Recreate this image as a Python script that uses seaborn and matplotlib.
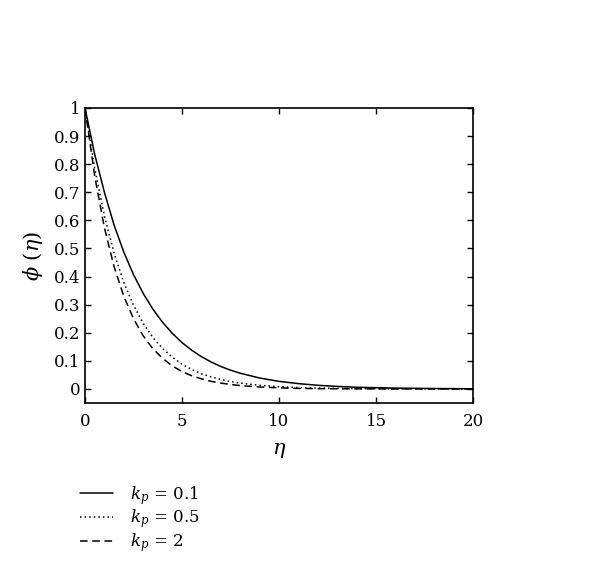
import pandas as pd
import matplotlib
matplotlib.use('Agg')
import matplotlib.pyplot as plt
import seaborn as sns

# valori
eta = [0, 0.5, 1, 1.5, 2, 2.5, 3, 3.5, 4, 4.5, 5, 5.5, 6, 6.5, 7, 7.5, 8,
       9, 10, 11, 12, 13, 14, 16, 18, 20]
phi_01 = [1, 0.835, 0.70, 0.583, 0.487, 0.407, 0.34, 0.284, 0.237, 0.198, 0.165,
          0.138, 0.115, 0.096, 0.080, 0.067, 0.056, 0.039, 0.027, 0.019, 0.013,
          0.009, 0.006, 0.003, 0.0015, 0.0007]
phi_05 = [1, 0.785, 0.616, 0.483, 0.379, 0.298, 0.233, 0.183, 0.144, 0.113, 0.088,
          0.069, 0.054, 0.043, 0.034, 0.026, 0.021, 0.013, 0.008, 0.005, 0.003,
          0.002, 0.001, 0.0004, 0.0002, 0.0]
phi_2 = [1, 0.758, 0.574, 0.435, 0.330, 0.250, 0.189, 0.143, 0.109, 0.082, 0.062,
         0.047, 0.036, 0.027, 0.021, 0.016, 0.012, 0.007, 0.004, 0.002, 0.001,
         0.0007, 0.0004, 0.0001, 0.0, 0.0]
labels = [r'$k_p$ = 0.1', r'$k_p$ = 0.5', r'$k_p$ = 2']

df = pd.DataFrame({
    'eta': eta * 3,
    'phi': phi_01 + phi_05 + phi_2,
    'kp': [labels[0]] * len(eta) + [labels[1]] * len(eta) + [labels[2]] * len(eta),
})

sns.set_theme(style='ticks')
plt.rcParams['font.family'] = ['DejaVu Serif']
plt.rcParams['mathtext.fontset'] = 'dejavuserif'
plt.rcParams['text.color'] = 'black'
plt.rcParams['axes.labelcolor'] = 'black'

fig = plt.figure(figsize=(6, 5.72), dpi=100)
ax = fig.add_axes([85/600, 1-403/572, 388/600, 295/572])

sns.lineplot(data=df, x='eta', y='phi', hue='kp', style='kp',
             palette=['black'] * 3, dashes=[(None, None), (1, 2), (5, 3)],
             linewidth=1.1, ax=ax, legend=False)

ax.set_xlim(0, 20)
ax.set_ylim(-0.05, 1.0)
ax.set_xticks([0, 5, 10, 15, 20])
ax.set_yticks([i / 10 for i in range(11)])
ax.set_yticklabels(['0'] + ['0.%d' % i for i in range(1, 10)] + ['1'])
ax.tick_params(direction='in', top=True, right=True, length=4, width=1,
               labelsize=12, colors='black')
ax.tick_params(axis='x', pad=7)
for s in ax.spines.values():
    s.set_linewidth(1.2)
    s.set_color('black')

ax.set_xlabel(r'$\eta$', fontsize=15, labelpad=8)
ax.set_ylabel(r'$\phi$ $(\eta)$', fontsize=15, labelpad=6)

# legenda sotto il grafico
handles = [plt.Line2D([], [], color='black', lw=1.1, linestyle=ls)
           for ls in ['-', (0, (1, 2)), (0, (5, 3))]]
leg = fig.legend(handles, labels, loc='upper left', bbox_to_anchor=(68/600, 1-472/572),
                 frameon=False, fontsize=12, handlelength=2.0, labelspacing=0.05,
                 handletextpad=1.0, borderpad=0.2)
for t in leg.get_texts():
    t.set_color('black')

fig.savefig('out.png', dpi=100)
